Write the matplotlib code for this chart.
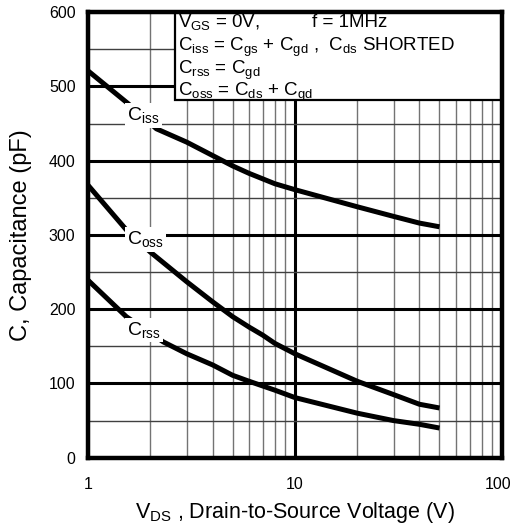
import numpy as np
import matplotlib.pyplot as plt
from matplotlib.patches import Rectangle
from matplotlib.transforms import ScaledTranslation

plt.rcParams['font.family'] = ['Liberation Sans', 'DejaVu Sans']
plt.rcParams['mathtext.default'] = 'regular'

# values
ciss_v = [1, 1.56, 2.14, 3, 4, 5, 6, 8, 10, 20, 30, 40, 50]
ciss_c = [521, 477, 443, 425, 407, 393, 383, 369, 361, 338, 325, 316, 311]
coss_v = [1, 1.53, 2.0, 3, 4, 5, 6, 7, 8, 10, 20, 30, 40, 50]
coss_c = [367, 307, 277, 237, 210, 190, 176, 165, 154, 140, 103, 85, 72, 67]
crss_v = [1, 1.53, 2.31, 3, 4, 5, 6, 8, 10, 20, 30, 40, 50]
crss_c = [239, 190, 156, 140, 125, 111, 103, 91, 81, 60, 50, 45, 40]

x_ticks = [1, 10, 100]
x_tick_labels = ['1', '10', '100']
y_ticks = [0, 100, 200, 300, 400, 500, 600]

fig = plt.figure(figsize=(5.12, 5.31), dpi=100)
ax = fig.add_axes([0.172, 0.138, 0.808, 0.839])

ax.set_xscale('log')
ax.set_xlim(1, 100)
ax.set_ylim(0, 600)
ax.set_xticks(x_ticks)
ax.set_xticklabels(x_tick_labels)
ax.set_xticks([m * d for d in (1, 10) for m in range(2, 10)], minor=True)
ax.set_xticklabels([], minor=True)
ax.set_yticks(y_ticks)
ax.set_yticks(np.arange(50, 600, 100), minor=True)
ax.tick_params(which='both', length=0, labelsize=11.5)
ax.tick_params(axis='x', pad=14)
ax.tick_params(axis='y', pad=9)
# keep "100" inside the figure
last = ax.get_xticklabels()[-1]
last.set_transform(last.get_transform() + ScaledTranslation(-4 / 100, 0, fig.dpi_scale_trans))

# grid
ax.grid(which='major', axis='both', color='k', lw=2.2, zorder=1)
ax.grid(which='minor', axis='y', color='0.25', lw=1.0, zorder=1)
ax.grid(which='minor', axis='x', color='0.45', lw=1.0, zorder=1)
ax.set_axisbelow(True)

for s in ax.spines.values():
    s.set_linewidth(3.2)
    s.set_zorder(8)

# curves
ax.plot(ciss_v, ciss_c, color='k', lw=3.6, solid_capstyle='butt', zorder=3)
ax.plot(coss_v, coss_c, color='k', lw=3.6, solid_capstyle='butt', zorder=3)
ax.plot(crss_v, crss_c, color='k', lw=3.6, solid_capstyle='butt', zorder=3)

lab_kw = dict(fontsize=14, va='center', ha='left', zorder=4,
              bbox=dict(fc='white', ec='none', pad=1.5))
ax.text(1.55, 461, 'C$_{iss}$', **lab_kw)
ax.text(1.55, 294, 'C$_{oss}$', **lab_kw)
ax.text(1.55, 172, 'C$_{rss}$', **lab_kw)

# conditions box
ax.add_patch(Rectangle((0.21, 0.803), 0.79, 0.197, transform=ax.transAxes,
                       fc='white', ec='k', lw=1.6, zorder=6))
box_kw = dict(transform=ax.transAxes, fontsize=13.5, va='baseline',
              ha='left', zorder=7)
ax.text(0.218, 0.966, 'V$_{GS}$ = 0V,', **box_kw)
ax.text(0.541, 0.966, 'f = 1MHz', **box_kw)
ax.text(0.218, 0.914, 'C$_{iss}$ = C$_{gs}$ + C$_{gd}$ ,  C$_{ds}$ SHORTED', **box_kw)
ax.text(0.218, 0.862, 'C$_{rss}$ = C$_{gd}$', **box_kw)
ax.text(0.218, 0.811, 'C$_{oss}$ = C$_{ds}$ + C$_{gd}$', **box_kw)

ax.set_xlabel('V$_{DS}$ , Drain-to-Source Voltage (V)', fontsize=15.5, labelpad=6)
ax.set_ylabel('C, Capacitance (pF)', fontsize=17, labelpad=12)

fig.savefig('out.png', dpi=100)
